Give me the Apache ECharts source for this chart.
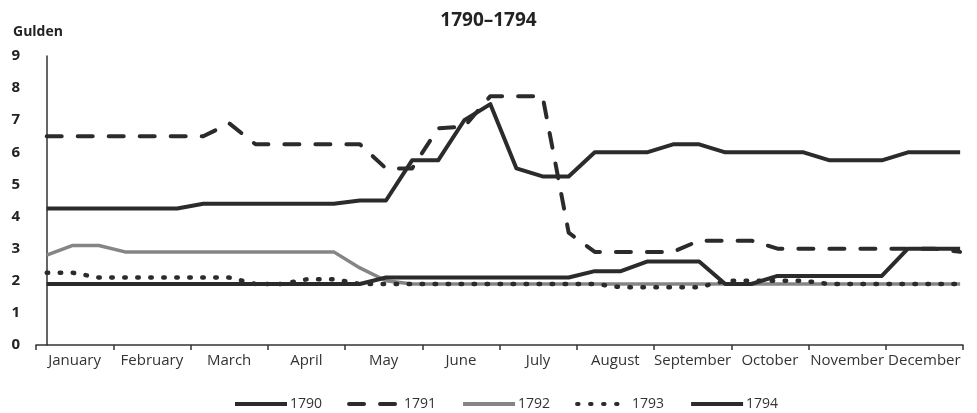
<!DOCTYPE html>
<html>
<head>
<meta charset="utf-8">
<script src="https://cdn.jsdelivr.net/npm/echarts@6/dist/echarts.min.js"></script>
<style>
  html, body { margin: 0; padding: 0; background: #fff; }
  #chart { width: 977px; height: 413px; }
</style>
</head>
<body>
<div id="chart"></div>
<script>
// Month labels on the time axis
const months = ['January', 'February', 'March', 'April', 'May', 'June',
  'July', 'August', 'September', 'October', 'November', 'December'];

// Price quotations, three per month (36 per year), in Gulden
const y1790 = [4.25, 4.25, 4.25, 4.25, 4.25, 4.25, 4.4, 4.4, 4.4, 4.4, 4.4, 4.4,
  4.5, 4.5, 5.75, 5.75, 7.0, 7.5, 5.5, 5.25, 5.25, 6.0, 6.0, 6.0,
  6.25, 6.25, 6.0, 6.0, 6.0, 6.0, 5.75, 5.75, 5.75, 6.0, 6.0, 6.0];
const y1791 = [6.5, 6.5, 6.5, 6.5, 6.5, 6.5, 6.5, 6.9, 6.25, 6.25, 6.25, 6.25,
  6.25, 5.5, 5.5, 6.75, 6.8, 7.75, 7.75, 7.75, 3.5, 2.9, 2.9, 2.9,
  2.9, 3.25, 3.25, 3.25, 3.0, 3.0, 3.0, 3.0, 3.0, 3.0, 3.0, 2.9];
const y1792 = [2.8, 3.1, 3.1, 2.9, 2.9, 2.9, 2.9, 2.9, 2.9, 2.9, 2.9, 2.9,
  2.4, 2.0, 1.9, 1.9, 1.9, 1.9, 1.9, 1.9, 1.9, 1.9, 1.9, 1.9,
  1.9, 1.9, 1.9, 1.9, 1.9, 1.9, 1.9, 1.9, 1.9, 1.9, 1.9, 1.9];
const y1793 = [2.25, 2.25, 2.1, 2.1, 2.1, 2.1, 2.1, 2.1, 1.9, 1.9, 2.05, 2.05,
  1.9, 1.9, 1.9, 1.9, 1.9, 1.9, 1.9, 1.9, 1.9, 1.9, 1.8, 1.8,
  1.8, 1.8, 2.0, 2.0, 2.0, 2.0, 1.9, 1.9, 1.9, 1.9, 1.9, 1.9];
const y1794 = [1.9, 1.9, 1.9, 1.9, 1.9, 1.9, 1.9, 1.9, 1.9, 1.9, 1.9, 1.9,
  1.9, 2.1, 2.1, 2.1, 2.1, 2.1, 2.1, 2.1, 2.1, 2.3, 2.3, 2.6,
  2.6, 2.6, 1.9, 1.9, 2.15, 2.15, 2.15, 2.15, 2.15, 3.0, 3.0, 3.0];

// Y axis ticks
const yTicks = [0, 1, 2, 3, 4, 5, 6, 7, 8, 9];

const DARK = '#2b2b2b';
const GREY = '#858585';

function pairs(values) {
  return values.map((v, i) => [i, v]);
}

function lineSeries(name, values, color, width, type, cap) {
  return {
    name: name,
    type: 'line',
    xAxisIndex: 1,
    data: pairs(values),
    symbol: 'none',
    showSymbol: false,
    animation: false,
    lineStyle: { color: color, width: width, type: type, cap: cap || 'butt', join: 'round' },
    itemStyle: { color: color }
  };
}

const chart = echarts.init(document.getElementById('chart'), null, { renderer: 'canvas' });

chart.setOption({
  backgroundColor: '#fff',
  animation: false,
  title: [
    {
      text: '1790–1794',
      left: 'center',
      top: 6,
      textStyle: { fontFamily: 'Open Sans', fontWeight: 'bold', fontSize: 19, color: '#222' }
    },
    {
      text: 'Gulden',
      left: 8,
      top: 20,
      textStyle: { fontFamily: 'Open Sans', fontWeight: 'bold', fontSize: 14, color: '#222' }
    }
  ],
  grid: { left: 36, right: 14, top: 56, bottom: 68, containLabel: false },
  legend: {
    left: 228,
    top: 392,
    itemWidth: 52,
    itemHeight: 14,
    itemGap: 25,
    // line-only keys: the marker dot is hidden
    itemStyle: { opacity: 0 },
    lineStyle: { width: 4 },
    textStyle: { fontFamily: 'Open Sans', fontSize: 14, color: '#333', padding: [0, 0, 0, -2] },
    data: ['1790', '1791', '1792', '1793', '1794']
  },
  xAxis: [
    {
      type: 'category',
      data: months,
      boundaryGap: true,
      axisLine: { lineStyle: { color: '#333', width: 1.5 } },
      axisTick: { show: true, length: 5, interval: 0, lineStyle: { color: '#333', width: 1.5 } },
      axisLabel: { interval: 0, margin: 8, fontFamily: 'Open Sans', fontSize: 15, color: '#333' },
      splitLine: { show: false }
    },
    {
      type: 'value',
      min: -0.41,
      max: 35.11,
      show: false,
      splitLine: { show: false }
    }
  ],
  yAxis: {
    type: 'value',
    min: yTicks[0],
    max: yTicks[yTicks.length - 1],
    interval: 1,
    axisLine: { show: true, lineStyle: { color: '#333', width: 1.5 } },
    axisTick: { show: false },
    splitLine: { show: false },
    axisLabel: { margin: 16, fontFamily: 'Open Sans', fontWeight: 'bold', fontSize: 15, color: '#222' }
  },
  series: [
    lineSeries('1790', y1790, DARK, 4, 'solid'),
    lineSeries('1791', y1791, DARK, 4, [15, 16], 'round'),
    lineSeries('1792', y1792, GREY, 3.5, 'solid'),
    lineSeries('1793', y1793, DARK, 4.5, [1.5, 11.5], 'round'),
    lineSeries('1794', y1794, DARK, 4, 'solid')
  ]
});
</script>
</body>
</html>
